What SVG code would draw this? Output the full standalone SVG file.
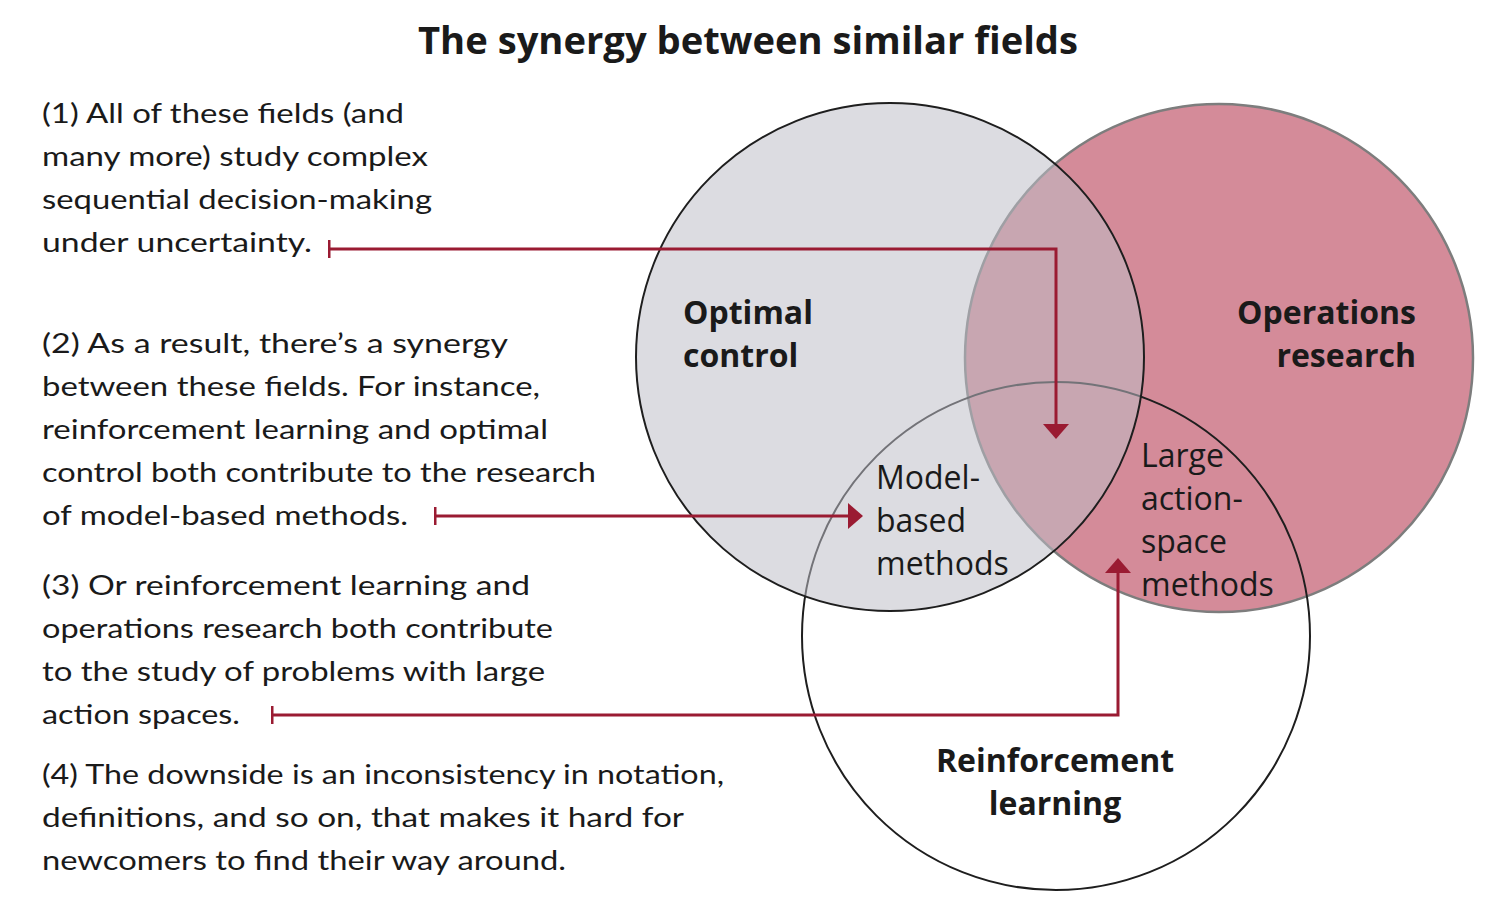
<svg xmlns="http://www.w3.org/2000/svg" width="1492" height="916" viewBox="0 0 1492 916">
<style>
.title{font-family:"Open Sans","Liberation Sans",sans-serif;font-weight:700;font-size:38px;fill:#1a1a1a}
.hand{font-family:Lato,"Liberation Sans",sans-serif;font-size:26px;fill:#1a1a1a}
.lab{font-family:"Open Sans","Liberation Sans",sans-serif;font-weight:700;font-size:32px;fill:#1a1a1a}
.reg{font-family:"Open Sans","Liberation Sans",sans-serif;font-size:32px;fill:#1a1a1a}
.conn{fill:none;stroke:#9a1b32;stroke-width:3}
</style>
<defs>
<marker id="arrow" markerUnits="userSpaceOnUse" viewBox="0 0 15 26" markerWidth="15" markerHeight="26" refX="0" refY="13" orient="auto">
<path d="M0,0 L15,13 L0,26 Z" fill="#9a1b32"/>
</marker>
<marker id="tick" markerUnits="userSpaceOnUse" viewBox="0 0 3 18" markerWidth="3" markerHeight="18" refX="1.5" refY="9" orient="auto">
<rect x="0" y="0" width="3" height="18" fill="#9a1b32"/>
</marker>
</defs>
<rect width="1492" height="916" fill="#ffffff"/>
<g id="title"><text class="title" x="748" y="54" text-anchor="middle" textLength="660" lengthAdjust="spacingAndGlyphs">The synergy between similar fields</text></g>

<g id="note1">
<text class="hand" x="42" y="123" textLength="362" lengthAdjust="spacingAndGlyphs">(1) All of these fields (and</text>
<text class="hand" x="42" y="166" textLength="386" lengthAdjust="spacingAndGlyphs">many more) study complex</text>
<text class="hand" x="42" y="209" textLength="390" lengthAdjust="spacingAndGlyphs">sequential decision-making</text>
<text class="hand" x="42" y="252" textLength="270" lengthAdjust="spacingAndGlyphs">under uncertainty.</text>
</g>
<g id="note2">
<text class="hand" x="42" y="353" textLength="466" lengthAdjust="spacingAndGlyphs">(2) As a result, there’s a synergy</text>
<text class="hand" x="42" y="396" textLength="498" lengthAdjust="spacingAndGlyphs">between these fields. For instance,</text>
<text class="hand" x="42" y="439" textLength="506" lengthAdjust="spacingAndGlyphs">reinforcement learning and optimal</text>
<text class="hand" x="42" y="482" textLength="554" lengthAdjust="spacingAndGlyphs">control both contribute to the research</text>
<text class="hand" x="42" y="525" textLength="366" lengthAdjust="spacingAndGlyphs">of model-based methods.</text>
</g>
<g id="note3">
<text class="hand" x="42" y="595" textLength="488" lengthAdjust="spacingAndGlyphs">(3) Or reinforcement learning and</text>
<text class="hand" x="42" y="638" textLength="511" lengthAdjust="spacingAndGlyphs">operations research both contribute</text>
<text class="hand" x="42" y="681" textLength="503" lengthAdjust="spacingAndGlyphs">to the study of problems with large</text>
<text class="hand" x="42" y="724" textLength="198" lengthAdjust="spacingAndGlyphs">action spaces.</text>
</g>
<g id="note4">
<text class="hand" x="42" y="784" textLength="682" lengthAdjust="spacingAndGlyphs">(4) The downside is an inconsistency in notation,</text>
<text class="hand" x="42" y="827" textLength="642" lengthAdjust="spacingAndGlyphs">definitions, and so on, that makes it hard for</text>
<text class="hand" x="42" y="870" textLength="524" lengthAdjust="spacingAndGlyphs">newcomers to find their way around.</text>
</g>

<g id="operations-research">
<circle cx="1219" cy="358" r="254" fill="#d48b99" stroke="#7d7d7d" stroke-width="2.5"/>
<text class="lab" x="1416" y="324" text-anchor="end">Operations</text>
<text class="lab" x="1416" y="367" text-anchor="end">research</text>
</g>
<g id="reinforcement-learning">
<circle cx="1056" cy="636" r="254" fill="none" stroke="#1e1e1e" stroke-width="2"/>
<text class="lab" x="1055" y="772" text-anchor="middle">Reinforcement</text>
<text class="lab" x="1055" y="815" text-anchor="middle">learning</text>
</g>
<g id="optimal-control">
<circle cx="890" cy="357" r="254" fill="rgb(190,190,198)" fill-opacity="0.535" stroke="#1e1e1e" stroke-width="2"/>
<text class="lab" x="683" y="324">Optimal</text>
<text class="lab" x="683" y="367">control</text>
</g>
<g id="model-based-methods">
<text class="reg" x="876" y="489">Model-</text>
<text class="reg" x="876" y="532">based</text>
<text class="reg" x="876" y="575">methods</text>
</g>
<g id="large-action-space-methods">
<text class="reg" x="1141" y="467">Large</text>
<text class="reg" x="1141" y="510">action-</text>
<text class="reg" x="1141" y="553">space</text>
<text class="reg" x="1141" y="596">methods</text>
</g>

<g id="connectors">
<path class="conn" d="M329,249 H1056 V424" marker-start="url(#tick)" marker-end="url(#arrow)"/>
<path class="conn" d="M435,516 H848" marker-start="url(#tick)" marker-end="url(#arrow)"/>
<path class="conn" d="M272,715 H1118 V573" marker-start="url(#tick)" marker-end="url(#arrow)"/>
</g>
</svg>
